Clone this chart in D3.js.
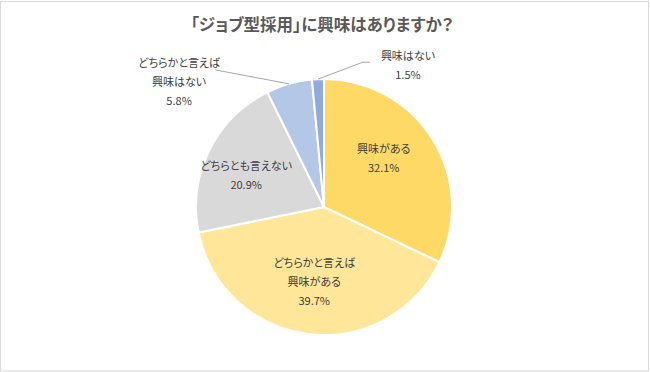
<!DOCTYPE html>
<html>
<head>
<meta charset="utf-8">
<script src="https://cdn.jsdelivr.net/npm/d3@7"></script>
<style>
  body { margin: 0; background: #fff; }
  text { font-family: "Noto Sans CJK JP", "Noto Sans", sans-serif; font-feature-settings: "palt"; }
</style>
</head>
<body>
<div id="chart"></div>
<script>
// data
var title = "「ジョブ型採用」に興味はありますか？";
var categories = ["興味がある", "どちらかと言えば\n興味がある", "どちらとも言えない", "どちらかと言えば\n興味はない", "興味はない"];
var values = [32.1, 39.7, 20.9, 5.8, 1.5];
var colors = ["#FFD966", "#FFE699", "#D9D9D9", "#B4C7E7", "#8FAADC"];

var width = 650, height = 372;
var cx = 324, cy = 207, radius = 128;

// inside labels: nudge from the arc centroid (best fit placement)
var inside = {0: [-8, -6], 1: [0, -4], 2: [-6, 4]};
// outside labels: offset of label centre from the slice's outer edge point
var outside = {
  3: {dx: -110, dy: -2, line: [[-74, -14]]},
  4: {dx: 90, dy: -14, line: [[45, -17], [52, -17]]}
};

var svg = d3.select("#chart").append("svg")
    .attr("width", width)
    .attr("height", height);

// chart border
svg.append("rect")
    .attr("x", 0.5).attr("y", 1.5)
    .attr("width", 648).attr("height", 369.5)
    .attr("fill", "#fff")
    .attr("stroke", "#D9D9D9");

svg.append("text")
    .attr("x", 322).attr("y", 31)
    .attr("text-anchor", "middle")
    .attr("font-size", "16.5px")
    .attr("font-weight", "bold")
    .attr("fill", "#595959")
    .text(title);

var pie = d3.pie().sort(null).value(d => d);
var arcs = pie(values);

var arc = d3.arc().innerRadius(0).outerRadius(radius);
var labelArc = d3.arc().innerRadius(80).outerRadius(80);
var edgeArc = d3.arc().innerRadius(radius).outerRadius(radius);

var g = svg.append("g")
    .attr("transform", "translate(" + cx + "," + cy + ")");

g.selectAll("path.slice")
    .data(arcs)
  .enter().append("path")
    .attr("class", "slice")
    .attr("d", arc)
    .attr("fill", (d, i) => colors[i])
    .attr("stroke", "#fff")
    .attr("stroke-width", 2);

// leader lines
arcs.forEach(function(d, i) {
  if (!outside[i]) return;
  var p = edgeArc.centroid(d);
  var pts = [p].concat(outside[i].line.map(q => [p[0] + q[0], p[1] + q[1]]));
  g.append("path")
      .attr("d", d3.line()(pts))
      .attr("fill", "none")
      .attr("stroke", "#A6A6A6")
      .attr("stroke-width", 1);
});

// labels
arcs.forEach(function(d, i) {
  var pos;
  if (outside[i]) {
    var p = edgeArc.centroid(d);
    pos = [p[0] + outside[i].dx, p[1] + outside[i].dy];
  } else {
    var c = labelArc.centroid(d);
    pos = [c[0] + inside[i][0], c[1] + inside[i][1]];
  }
  var lines = categories[i].split("\n").concat([values[i].toFixed(1) + "%"]);
  var lh = 19;
  var t = g.append("text")
      .attr("text-anchor", "middle")
      .attr("font-size", "11px")
      .attr("fill", "#404040");
  lines.forEach(function(s, k) {
    t.append("tspan")
        .attr("x", pos[0])
        .attr("y", pos[1] + (k - (lines.length - 1) / 2) * lh)
        .attr("dy", "0.35em")
        .text(s);
  });
});
</script>
</body>
</html>
